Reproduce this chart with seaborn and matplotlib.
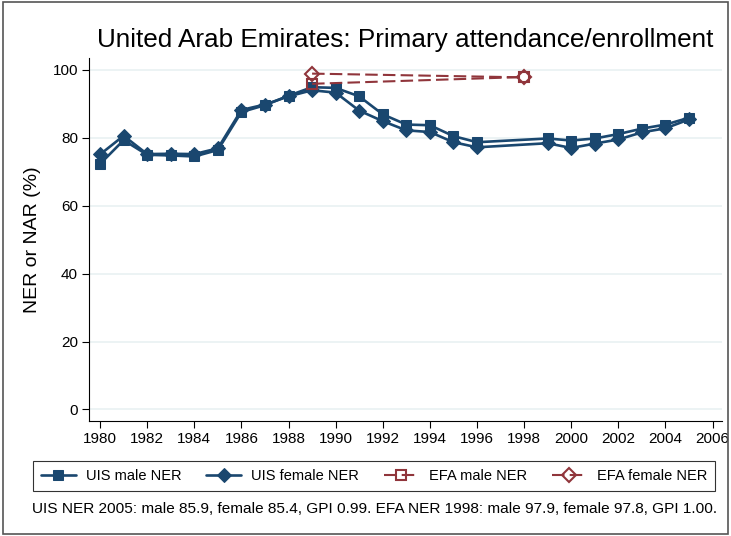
import matplotlib
matplotlib.use("Agg")
import matplotlib.pyplot as plt
import seaborn as sns
import pandas as pd
from matplotlib.patches import Rectangle

# ---- data ----
uis_years = [1980, 1981, 1982, 1983, 1984, 1985, 1986, 1987, 1988, 1989, 1990,
             1991, 1992, 1993, 1994, 1995, 1996, 1999, 2000, 2001, 2002, 2003, 2004, 2005]
uis_male = [72.3, 79.3, 75.0, 74.8, 74.5, 76.4, 87.6, 89.6, 92.4, 94.9, 94.7,
            92.2, 86.9, 83.9, 83.7, 80.5, 78.7, 79.8, 79.2, 79.8, 81.1, 82.7, 83.9, 85.9]
uis_female = [75.1, 80.6, 75.2, 75.3, 75.2, 76.9, 88.2, 89.8, 92.2, 94.0, 93.3,
              88.0, 84.9, 82.2, 81.7, 78.7, 77.2, 78.4, 77.0, 78.3, 79.5, 81.6, 82.8, 85.4]
efa_years = [1989, 1998]
efa_male = [95.9, 97.9]
efa_female = [98.9, 97.8]

title = "United Arab Emirates: Primary attendance/enrollment"
ylabel = "NER or NAR (%)"
xticks = list(range(1980, 2007, 2))
yticks = [0, 20, 40, 60, 80, 100]
legend_labels = ["UIS male NER", "UIS female NER", "EFA male NER", "EFA female NER"]
note = ("UIS NER 2005: male 85.9, female 85.4, GPI 0.99. "
        "EFA NER 1998: male 97.9, female 97.8, GPI 1.00.")

navy = "#1a476f"
maroon = "#90353b"

sns.set_theme(style="white")
plt.rcParams["font.family"] = ["Liberation Sans", "DejaVu Sans"]

fig = plt.figure(figsize=(7.31, 5.36), dpi=100)
ax = fig.add_axes([89 / 731, 1 - 421 / 536, (722 - 89) / 731, (421 - 58) / 536])

df_m = pd.DataFrame({"year": uis_years, "val": uis_male})
df_f = pd.DataFrame({"year": uis_years, "val": uis_female})
df_em = pd.DataFrame({"year": efa_years, "val": efa_male})
df_ef = pd.DataFrame({"year": efa_years, "val": efa_female})

sns.lineplot(data=df_m, x="year", y="val", ax=ax, color=navy, lw=1.9,
             marker="s", markersize=7.5, markeredgecolor=navy, markerfacecolor=navy,
             label=legend_labels[0])
sns.lineplot(data=df_f, x="year", y="val", ax=ax, color=navy, lw=1.9,
             marker="D", markersize=7.5, markeredgecolor=navy, markerfacecolor=navy,
             label=legend_labels[1])
sns.lineplot(data=df_em, x="year", y="val", ax=ax, color=maroon, lw=1.5,
             marker="s", markersize=7.5, markeredgecolor=maroon, markerfacecolor="none",
             markeredgewidth=1.5, dashes=(6, 2.5), label=legend_labels[2])
sns.lineplot(data=df_ef, x="year", y="val", ax=ax, color=maroon, lw=1.5,
             marker="D", markersize=7.5, markeredgecolor=maroon, markerfacecolor="none",
             markeredgewidth=1.5, dashes=(6, 2.5), label=legend_labels[3])

ax.set_xlim(1979.53, 2006.4)
ax.set_ylim(-3.4, 103.5)
ax.set_xticks(xticks)
ax.set_yticks(yticks)
ax.tick_params(axis="both", which="both", direction="out", length=5, width=0.8,
               color="black", labelsize=11, labelcolor="black", left=True, bottom=True, pad=3)
ax.grid(axis="y", color="#eaf2f3", lw=1.3)
ax.grid(axis="x", visible=False)
for s in ["top", "right"]:
    ax.spines[s].set_visible(False)
for s in ["left", "bottom"]:
    ax.spines[s].set_color("black")
    ax.spines[s].set_linewidth(0.8)
ax.set_xlabel("")
ax.set_ylabel(ylabel, fontsize=14, labelpad=8, color="black")

fig.text(405 / 731, 1 - 40 / 536, title, fontsize=18.8, ha="center", va="center",
         color="black")

h, l = ax.get_legend_handles_labels()
ax.legend_.remove()
leg = fig.legend(h, l, loc="center", bbox_to_anchor=(374 / 731, 1 - 476 / 536), ncol=4,
                 frameon=True, fancybox=False, edgecolor="black", fontsize=10.5,
                 handlelength=2.4, columnspacing=1.7, borderpad=0.55, handletextpad=0.69)
leg.get_frame().set_linewidth(0.8)
for t in leg.get_texts():
    t.set_color("black")

fig.text(32 / 731, 1 - 509 / 536, note, fontsize=11.1, ha="left", va="center",
         color="black")

fig.patches.append(Rectangle((0.004, 0.004), 0.992, 0.992, transform=fig.transFigure,
                             fill=False, edgecolor="#555555", lw=1.2))

fig.savefig("out.png", dpi=100)
